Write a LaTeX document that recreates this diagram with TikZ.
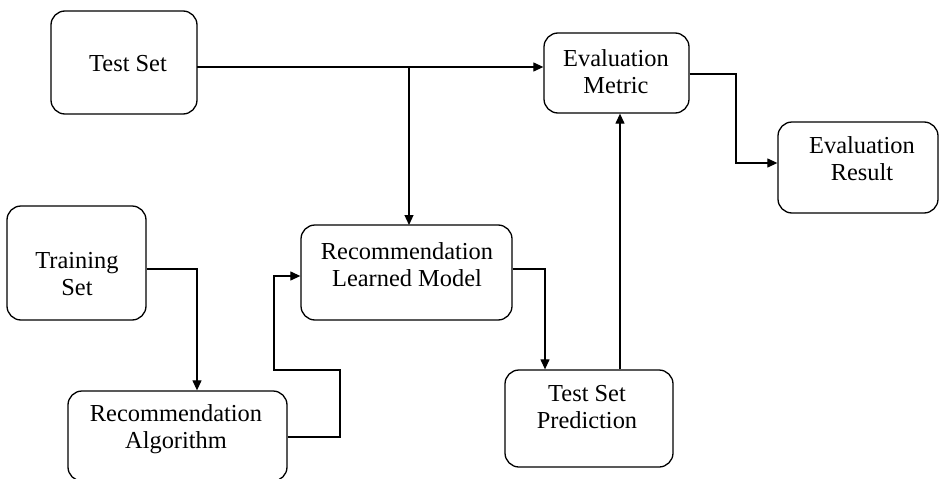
\documentclass[tikz,border=0pt]{standalone}
\usepackage{fontspec}
\setmainfont{Liberation Serif}
\usetikzlibrary{arrows.meta,calc}
\begin{document}
\begin{tikzpicture}[x=1pt,y=-1pt,
  box/.style={draw=black,line width=1.3pt,rounded corners=14pt,inner sep=0pt,minimum width=#1},
  lbl/.style={align=center,inner sep=0pt,font=\fontsize{24.4}{27}\selectfont},
  conn/.style={line width=1.2pt},
  arr/.style={conn,-{Triangle[length=10pt,width=9pt]}}]
\useasboundingbox (0,0) rectangle (940,479);
% boxes
\node[box=146pt,minimum height=103pt] (TS) at (124,62.5) {};
\node[box=145pt,minimum height=80pt] (EM) at (616.5,73) {};
\node[box=160pt,minimum height=91pt] (ER) at (858,167.5) {};
\node[box=139pt,minimum height=114pt] (TR) at (76.5,263) {};
\node[box=211pt,minimum height=95pt] (RLM) at (406.5,272.5) {};
\node[box=219pt,minimum height=90pt] (RA) at (177.5,436) {};
\node[box=168pt,minimum height=97pt] (TSP) at (589,418.5) {};
% labels
\node[lbl] (tTS) at (128,64) {Test Set};
\node[lbl] (tEM) at (616,72) {Evaluation\\Metric};
\node[lbl] (tER) at (862,159) {Evaluation\\Result};
\node[lbl] (tTR) at (77,274) {Training\\Set};
\node[lbl] (tRLM) at (407,265) {Recommendation\\Learned Model};
\node[lbl] (tRA) at (176,429) {Recommendation\\Algorithm};
\node[lbl] (tTSP) at (587,407) {Test Set\\Prediction};
% connector coordinates
\coordinate (br) at (409,67);
\coordinate (tsout) at (197,67);
\coordinate (rlmin) at (409,225);
% connectors
\draw[arr] (tsout) -- (tsout -| EM.west);
\draw[arr] (br) -- (rlmin);
\draw[arr] (TR.east |- 0,269) -| (RA.north -| 197,0);
\draw[arr] (RA.east |- 0,437) -- (340,437) -- (340,370) -- (274,370) -- (274,276) -- (RLM.west |- 0,276);
\draw[arr] (RLM.east |- 0,269) -| (TSP.north -| 545,0);
\draw[arr] (TSP.north -| 620,0) -- (EM.south -| 620,0);
\draw[arr] (EM.east |- 0,74) -- (736,74) -- (736,163) -- (ER.west |- 0,163);
\end{tikzpicture}
\end{document}
